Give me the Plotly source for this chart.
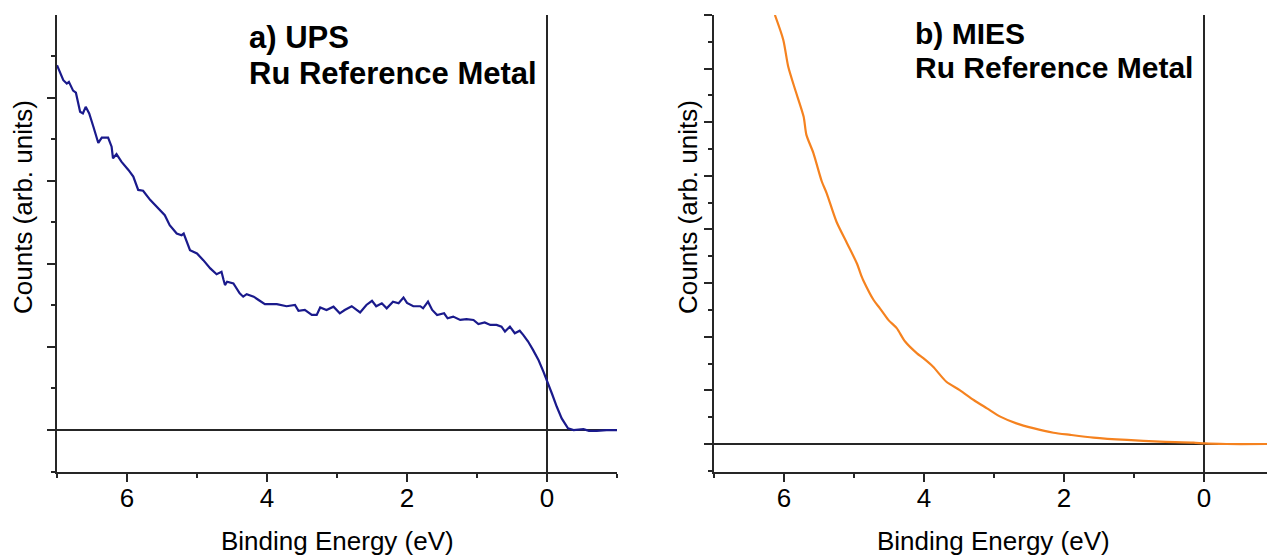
import plotly.graph_objects as go

# ---- Data ----
ups_energy = [7.00, 6.98, 6.91, 6.86, 6.83, 6.77, 6.73, 6.67, 6.63, 6.59, 6.54, 6.48, 6.41, 6.36,
              6.27, 6.22, 6.20, 6.15, 6.08, 5.98, 5.91, 5.84, 5.77, 5.67, 5.53, 5.46, 5.39, 5.29,
              5.22, 5.19, 5.10, 5.00, 4.91, 4.81, 4.72, 4.65, 4.62, 4.60, 4.57, 4.48, 4.39, 4.34,
              4.29, 4.19, 4.12, 4.03, 3.86, 3.72, 3.60, 3.55, 3.46, 3.36, 3.29, 3.24, 3.15, 3.05,
              2.96, 2.89, 2.79, 2.67, 2.58, 2.50, 2.44, 2.36, 2.29, 2.20, 2.12, 2.05, 2.00, 1.91,
              1.81, 1.77, 1.70, 1.64, 1.57, 1.47, 1.42, 1.34, 1.24, 1.15, 1.05, 0.98, 0.89, 0.81,
              0.72, 0.65, 0.60, 0.53, 0.46, 0.39, 0.34, 0.27, 0.20, 0.12, 0.05, 0.00, -0.07, -0.14,
              -0.21, -0.30, -0.38, -0.52, -0.60, -0.71, -0.85, -1.00]
ups_counts = [8.78, 8.70, 8.42, 8.34, 8.38, 8.17, 8.12, 7.66, 7.62, 7.78, 7.62, 7.30, 6.91, 7.04,
              7.04, 6.82, 6.54, 6.64, 6.46, 6.26, 6.10, 5.78, 5.76, 5.54, 5.29, 5.17, 4.93, 4.73,
              4.69, 4.73, 4.33, 4.25, 4.09, 3.89, 3.75, 3.81, 3.61, 3.49, 3.57, 3.53, 3.29, 3.21,
              3.27, 3.21, 3.13, 3.03, 3.03, 2.98, 3.01, 2.87, 2.89, 2.77, 2.77, 2.95, 2.89, 2.97,
              2.81, 2.89, 2.98, 2.83, 3.01, 3.11, 2.98, 3.05, 2.93, 3.09, 3.05, 3.19, 3.06, 2.98,
              2.98, 2.93, 3.09, 2.89, 2.77, 2.81, 2.69, 2.73, 2.65, 2.67, 2.65, 2.55, 2.59, 2.53,
              2.53, 2.49, 2.37, 2.49, 2.33, 2.39, 2.29, 2.13, 1.93, 1.68, 1.40, 1.20, 0.88, 0.56,
              0.28, 0.04, 0.00, 0.02, -0.02, -0.02, 0.00, 0.00]

mies_energy = [6.13, 6.01, 5.94, 5.84, 5.72, 5.68, 5.58, 5.46, 5.39, 5.25, 5.10, 4.96, 4.89, 4.87,
               4.72, 4.63, 4.51, 4.39, 4.27, 4.10, 4.01, 3.87, 3.68, 3.49, 3.29, 3.10, 2.91, 2.68,
               2.44, 2.15, 1.91, 1.58, 1.10, 0.63, 0.15, -0.01, -0.32, -0.90]
mies_counts = [16.0, 15.07, 14.08, 13.21, 12.21, 11.53, 10.85, 9.79, 9.35, 8.29, 7.49, 6.74, 6.24, 6.12,
               5.37, 5.06, 4.63, 4.32, 3.82, 3.38, 3.20, 2.88, 2.32, 2.01, 1.64, 1.33, 1.02, 0.77,
               0.59, 0.42, 0.34, 0.24, 0.15, 0.09, 0.05, 0.02, 0.00, 0.00]

x_tick_vals = [6, 4, 2, 0]
x_tick_text = ["6", "4", "2", "0"]
x_title = "Binding Energy (eV)"
y_title = "Counts (arb. units)"
panel_a = ["a) UPS", "Ru Reference Metal"]
panel_b = ["b) MIES", "Ru Reference Metal"]

# ---- Figure ----
W, H = 1267, 555
FONT = "Liberation Sans, Arial, sans-serif"
AX = "#262626"

fig = go.Figure()
fig.add_trace(go.Scatter(x=ups_energy, y=ups_counts, mode="lines",
                         line=dict(color="#1a1a8c", width=2.2), xaxis="x", yaxis="y",
                         showlegend=False))
fig.add_trace(go.Scatter(x=mies_energy, y=mies_counts, mode="lines",
                         line=dict(color="#f5821f", width=2.2, shape="spline", smoothing=0.7),
                         xaxis="x2", yaxis="y2", showlegend=False))

def px_x(p):
    return p / W

def px_y(p):
    return 1 - p / H

ydom = [px_y(472), px_y(15)]

common_x = dict(showgrid=False, showline=True, linecolor=AX, linewidth=1.6,
                ticks="outside", ticklen=8, tickwidth=1.6, tickcolor=AX,
                tickmode="array", tickvals=x_tick_vals, ticktext=x_tick_text,
                tickfont=dict(family=FONT, size=26, color="black"),
                ticklabelstandoff=-6,
                minor=dict(tickmode="array", tickvals=[7, 5, 3, 1, -1], ticks="outside",
                           ticklen=4, tickwidth=1.6, tickcolor=AX, showgrid=False),
                zeroline=True, zerolinecolor=AX, zerolinewidth=1.6)
common_y = dict(showgrid=False, showline=True, linecolor=AX, linewidth=1.6,
                ticks="outside", ticklen=8, tickwidth=1.6, tickcolor=AX,
                showticklabels=False, tick0=0, dtick=2,
                minor=dict(ticks="outside", ticklen=4, tickwidth=1.6, tickcolor=AX,
                           dtick=1, tick0=0, showgrid=False),
                zeroline=True, zerolinecolor=AX, zerolinewidth=1.6)

fig.update_layout(
    width=W, height=H,
    margin=dict(l=0, r=0, t=0, b=0),
    paper_bgcolor="white", plot_bgcolor="white",
    xaxis=dict(common_x, domain=[px_x(57), px_x(617)], range=[7, -1], anchor="y"),
    yaxis=dict(common_y, domain=ydom, range=[-1.01, 9.99], anchor="x"),
    xaxis2=dict(common_x, domain=[px_x(714), 1.0], range=[7, -0.9], anchor="y2"),
    yaxis2=dict(common_y, domain=ydom, range=[-1.045, 16.0], anchor="x2"),
)

ann = []
def add_text(text, x, y, size, bold=False, angle=0, xanchor="center"):
    ann.append(dict(text=f"<b>{text}</b>" if bold else text, x=px_x(x), y=px_y(y),
                    xref="paper", yref="paper", showarrow=False, textangle=angle,
                    xanchor=xanchor, yanchor="middle",
                    font=dict(family=FONT, size=size, color="black")))

add_text(x_title, 337, 541, 26)
add_text(x_title, 993, 541, 26)
add_text(y_title, 23, 207, 26, angle=-90)
add_text(y_title, 688, 207, 26, angle=-90)
add_text(panel_a[0], 247, 38, 31, bold=True, xanchor="left")
add_text(panel_a[1], 247, 73, 31, bold=True, xanchor="left")
add_text(panel_b[0], 913, 33, 30, bold=True, xanchor="left")
add_text(panel_b[1], 913, 68, 30, bold=True, xanchor="left")
fig.update_layout(annotations=ann)

fig.write_html("out.html", config={"displayModeBar": False},
               post_script="document.body.style.margin='0';document.body.style.overflow='hidden';")
